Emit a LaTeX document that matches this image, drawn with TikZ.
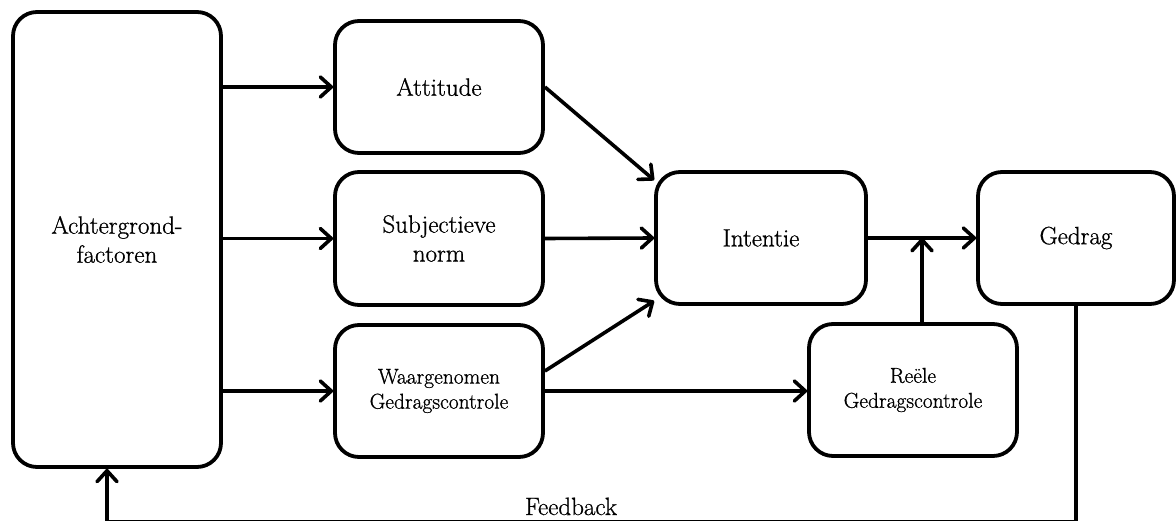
\documentclass[tikz,border=0pt]{standalone}
\usepackage{fontspec}
\setmainfont{Latin Modern Roman}[FakeBold=0.8]
\usetikzlibrary{arrows.meta,calc}
\begin{document}
\begin{tikzpicture}[x=1pt,y=-1pt,
  box/.style={draw=black,line width=3.8pt,rounded corners=24pt,fill=white,
    align=center,inner sep=0pt,font=\fontsize{25}{29}\selectfont},
  smalltext/.style={font=\fontsize{21.5}{25}\selectfont},
  arr/.style={line width=3.6pt,line join=round,
    -{Straight Barb[length=11pt,width=20pt,line width=3.6pt,round]}},
  plain/.style={line width=3.6pt,line join=round}]
\useasboundingbox (0,0) rectangle (1176,521);
% nodes
\node[box,minimum width=208pt,minimum height=455pt] (bg) at (117,239.5) {Achtergrond-\\factoren};
\node[box,minimum width=208pt,minimum height=132pt] (att) at (439,87) {Attitude};
\node[box,minimum width=208pt,minimum height=133pt] (sub) at (439,238.5) {Subjectieve\\norm};
\node[box,smalltext,minimum width=208pt,minimum height=132pt] (waar) at (439,391) {Waargenomen\\Gedragscontrole};
\node[box,minimum width=210pt,minimum height=132pt] (int) at (761,238) {Intentie};
\node[box,minimum width=196pt,minimum height=132pt] (ged) at (1076,238) {Gedrag};
\node[box,smalltext,minimum width=208pt,minimum height=132pt] (ree) at (913,390) {Reële\\Gedragscontrole};
\node[anchor=base,font=\fontsize{25}{29}\selectfont] (fb) at (571,515) {Feedback};
% helper coordinates
\coordinate (j) at (922,238);
\coordinate (fbl) at (107,521.5);
\coordinate (fbr) at (ged.south |- fbl);
% connectors
\draw[arr] (bg.east |- att.west) -- (att.west);
\draw[arr] (bg.east |- sub.west) -- (sub.west);
\draw[arr] (bg.east |- waar.west) -- (waar.west);
\draw[arr] (att.east) -- ([yshift=-10pt]int.north west);
\draw[arr] (sub.east) -- (int.west);
\draw[arr] ([yshift=20pt]waar.east) -- ([yshift=5pt]int.south west);
\draw[arr] (waar.east) -- (ree.west |- waar.east);
\draw[arr] (int.east) -- (ged.west);
\draw[arr] (j |- ree.north) -- (j);
\draw[plain] (ged.south) -- (fbr) -- (fbl);
\draw[arr] (fbl) -- (fbl |- bg.south);
\end{tikzpicture}
\end{document}
